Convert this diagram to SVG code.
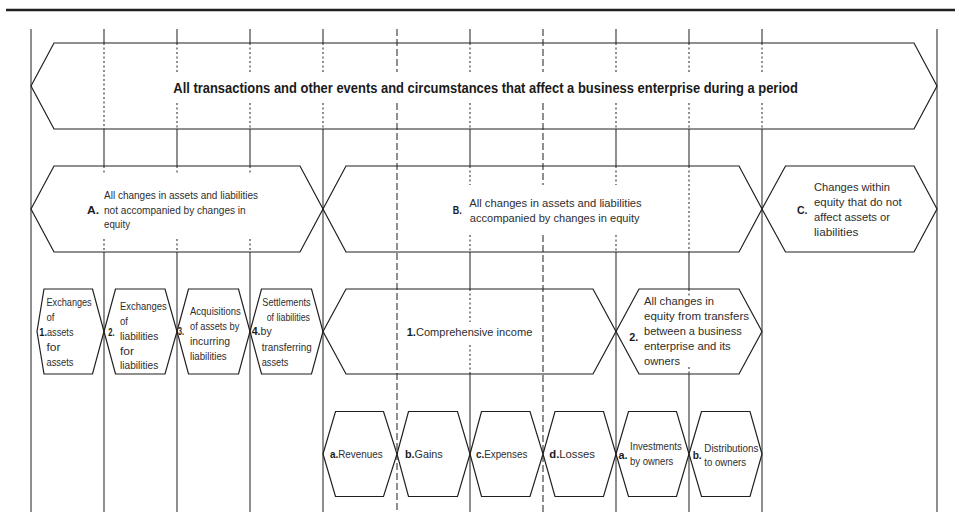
<svg xmlns="http://www.w3.org/2000/svg" width="955" height="523" viewBox="0 0 955 523">
<style>
.bg{fill:#fff}
.hex{fill:none;stroke:#231f20;stroke-width:1.2;stroke-linejoin:miter}
.v{stroke:#333;stroke-width:1.1;fill:none}
.dot{stroke-dasharray:2 2.5}
.dash{stroke-dasharray:7 3}
text{font-family:"Liberation Sans",Arial,sans-serif;fill:#2e2e2e}
.t{font-size:11.5px}
.s{font-size:11px}
.b{font-weight:bold;fill:#1a1a1a}
.title{font-size:15px;font-weight:bold;fill:#1a1a1a}
</style>
<rect class="bg" width="955" height="523"/>
<line x1="6" y1="10" x2="955" y2="10" stroke="#231f20" stroke-width="2.6"/>

<g id="connectors">
  <path class="v" d="M31 29V512M937 29V512"/>
  <path class="v" d="M104 29V43M104 129V166M104 252V512M177 29V43M177 129V166M177 252V512M250 29V43M250 129V166M250 252V512M323 29V43M323 129V512M470 29V43M470 129V166M470 252V289M470 374V512M616 29V43M616 129V166M616 252V512M689 29V43M689 129V166M689 252V289M689 374V512M762 29V43M762 129V512"/>
  <path class="v dot" d="M104 43V129M104 166V175M104 239V252M177 43V72M177 103V129M177 166V175M177 239V252M250 43V72M250 103V129M250 166V175M250 239V252M323 43V72M323 103V129M470 43V72M470 103V129M470 166V185M470 235V252M470 289V322M470 345V374M616 43V72M616 103V129M616 166V185M616 235V252M689 43V72M689 103V129M689 166V252M689 289V297M689 367V374M762 43V72M762 103V129"/>
  <path class="v dash" d="M397 29V72M397 103V512M543 29V72M543 103V185M543 235V512"/>
</g>

<g id="all-transactions">
  <polygon class="hex" points="31,86 54,43 914,43 937,86 914,129 54,129"/>
  <text class="title" x="173.3" y="93" textLength="624.5" lengthAdjust="spacingAndGlyphs">All transactions and other events and circumstances that affect a business enterprise during a period</text>
</g>

<g id="A">
  <polygon class="hex" points="31,209 54,166 300,166 323,209 300,252 54,252"/>
  <text class="t b" x="87" y="214" textLength="12" lengthAdjust="spacingAndGlyphs">A.</text>
  <text class="t" x="104" y="199" textLength="154" lengthAdjust="spacingAndGlyphs">All changes in assets and liabilities</text>
  <text class="t" x="104" y="213.5" textLength="141.7" lengthAdjust="spacingAndGlyphs">not accompanied by changes in</text>
  <text class="t" x="104" y="228" textLength="26" lengthAdjust="spacingAndGlyphs">equity</text>
</g>

<g id="B">
  <polygon class="hex" points="323,209 346,166 739,166 762,209 739,252 346,252"/>
  <text class="t b" x="452.7" y="214" textLength="9" lengthAdjust="spacingAndGlyphs">B.</text>
  <text class="t" x="469.3" y="206.7" textLength="172.4" lengthAdjust="spacingAndGlyphs">All changes in assets and liabilities</text>
  <text class="t" x="469.8" y="221.5" textLength="169.8" lengthAdjust="spacingAndGlyphs">accompanied by changes in equity</text>
</g>

<g id="C">
  <polygon class="hex" points="762,209 785.5,166 914,166 937,209 914,252 785.5,252"/>
  <text class="t b" x="797" y="214" textLength="10.5" lengthAdjust="spacingAndGlyphs">C.</text>
  <text class="t" x="814" y="190.7" textLength="76" lengthAdjust="spacingAndGlyphs">Changes within</text>
  <text class="t" x="814" y="206" textLength="87.7" lengthAdjust="spacingAndGlyphs">equity that do not</text>
  <text class="t" x="814" y="221" textLength="76" lengthAdjust="spacingAndGlyphs">affect assets or</text>
  <text class="t" x="814" y="236" textLength="44.3" lengthAdjust="spacingAndGlyphs">liabilities</text>
</g>

<g id="A1">
  <polygon class="hex" points="37,331.5 44,289 92.5,289 104,331.5 92.5,374 44,374"/>
  <text class="s" x="46.5" y="305.5" textLength="45.2" lengthAdjust="spacingAndGlyphs">Exchanges</text>
  <text class="s" x="46.5" y="320.5" textLength="8" lengthAdjust="spacingAndGlyphs">of</text>
  <text class="s" x="39.3" y="335.5" textLength="34.2" lengthAdjust="spacingAndGlyphs"><tspan class="b">1.</tspan>assets</text>
  <text class="s" x="46.5" y="350.5" textLength="14" lengthAdjust="spacingAndGlyphs">for</text>
  <text class="s" x="46.5" y="365.5" textLength="27" lengthAdjust="spacingAndGlyphs">assets</text>
</g>

<g id="A2">
  <polygon class="hex" points="104,331.5 115.5,289 165,289 177,331.5 165,374 115.5,374"/>
  <text class="s b" x="108.3" y="336" textLength="6.3" lengthAdjust="spacingAndGlyphs">2.</text>
  <text class="s" x="120" y="310" textLength="46.7" lengthAdjust="spacingAndGlyphs">Exchanges</text>
  <text class="s" x="120" y="324.8" textLength="8" lengthAdjust="spacingAndGlyphs">of</text>
  <text class="s" x="120" y="339.6" textLength="38.3" lengthAdjust="spacingAndGlyphs">liabilities</text>
  <text class="s" x="120" y="354.5" textLength="14" lengthAdjust="spacingAndGlyphs">for</text>
  <text class="s" x="120" y="369.3" textLength="38.3" lengthAdjust="spacingAndGlyphs">liabilities</text>
</g>

<g id="A3">
  <polygon class="hex" points="177,331.5 188.5,289 238.5,289 250,331.5 238.5,374 188.5,374"/>
  <text class="s b" x="178" y="335" textLength="6" lengthAdjust="spacingAndGlyphs">3.</text>
  <text class="s" x="190" y="315" textLength="50.7" lengthAdjust="spacingAndGlyphs">Acquisitions</text>
  <text class="s" x="190" y="330" textLength="49.3" lengthAdjust="spacingAndGlyphs">of assets by</text>
  <text class="s" x="190" y="345" textLength="40" lengthAdjust="spacingAndGlyphs">incurring</text>
  <text class="s" x="190" y="360" textLength="36.7" lengthAdjust="spacingAndGlyphs">liabilities</text>
</g>

<g id="A4">
  <polygon class="hex" points="250,331.5 261.5,289 311.5,289 323,331.5 311.5,374 261.5,374"/>
  <text class="s" x="262.3" y="305.5" textLength="48.4" lengthAdjust="spacingAndGlyphs">Settlements</text>
  <text class="s" x="266.7" y="320.5" textLength="43.3" lengthAdjust="spacingAndGlyphs">of liabilities</text>
  <text class="s" x="251.7" y="335" textLength="20" lengthAdjust="spacingAndGlyphs"><tspan class="b">4.</tspan>by</text>
  <text class="s" x="261.7" y="350.5" textLength="50" lengthAdjust="spacingAndGlyphs">transferring</text>
  <text class="s" x="261.7" y="365.5" textLength="26.6" lengthAdjust="spacingAndGlyphs">assets</text>
</g>

<g id="B1">
  <polygon class="hex" points="323,331.5 346,289 593,289 616,331.5 593,374 346,374"/>
  <text class="t" x="406.7" y="336" textLength="125.6" lengthAdjust="spacingAndGlyphs"><tspan class="b">1.</tspan>Comprehensive income</text>
</g>

<g id="B2">
  <polygon class="hex" points="616,331.5 639,289 739,289 762,331.5 739,374 639,374"/>
  <text class="t b" x="629.3" y="341" textLength="9" lengthAdjust="spacingAndGlyphs">2.</text>
  <text class="t" x="644" y="305" textLength="70" lengthAdjust="spacingAndGlyphs">All changes in</text>
  <text class="t" x="644" y="320" textLength="105" lengthAdjust="spacingAndGlyphs">equity from transfers</text>
  <text class="t" x="644" y="335" textLength="97.7" lengthAdjust="spacingAndGlyphs">between a business</text>
  <text class="t" x="644" y="350" textLength="86.7" lengthAdjust="spacingAndGlyphs">enterprise and its</text>
  <text class="t" x="644" y="365" textLength="36" lengthAdjust="spacingAndGlyphs">owners</text>
</g>

<g id="B1a">
  <polygon class="hex" points="323,454 335.5,411.5 383.5,411.5 397,454 383.5,496.5 335.5,496.5"/>
  <text class="s" x="330" y="458.3" textLength="52.7" lengthAdjust="spacingAndGlyphs"><tspan class="b">a.</tspan>Revenues</text>
</g>
<g id="B1b">
  <polygon class="hex" points="397,454 408.5,411.5 457.5,411.5 470,454 457.5,496.5 408.5,496.5"/>
  <text class="s" x="405" y="458.3" textLength="37.7" lengthAdjust="spacingAndGlyphs"><tspan class="b">b.</tspan>Gains</text>
</g>
<g id="B1c">
  <polygon class="hex" points="470,454 481.5,411.5 530,411.5 543,454 530,496.5 481.5,496.5"/>
  <text class="s" x="476" y="458.3" textLength="51.3" lengthAdjust="spacingAndGlyphs"><tspan class="b">c.</tspan>Expenses</text>
</g>
<g id="B1d">
  <polygon class="hex" points="543,454 555,411.5 603.5,411.5 616,454 603.5,496.5 555,496.5"/>
  <text class="s" x="549.3" y="458.3" textLength="45.7" lengthAdjust="spacingAndGlyphs"><tspan class="b">d.</tspan>Losses</text>
</g>
<g id="B2a">
  <polygon class="hex" points="616,454 628.5,411.5 676.5,411.5 689,454 676.5,496.5 628.5,496.5"/>
  <text class="s b" x="618.5" y="459" textLength="9" lengthAdjust="spacingAndGlyphs">a.</text>
  <text class="s" x="630" y="450" textLength="51.7" lengthAdjust="spacingAndGlyphs">Investments</text>
  <text class="s" x="630" y="464.5" textLength="43.3" lengthAdjust="spacingAndGlyphs">by owners</text>
</g>
<g id="B2b">
  <polygon class="hex" points="689,454 701.5,411.5 750,411.5 762,454 750,496.5 701.5,496.5"/>
  <text class="s b" x="692.7" y="459" textLength="9" lengthAdjust="spacingAndGlyphs">b.</text>
  <text class="s" x="704.3" y="452" textLength="54" lengthAdjust="spacingAndGlyphs">Distributions</text>
  <text class="s" x="704.3" y="466" textLength="41.7" lengthAdjust="spacingAndGlyphs">to owners</text>
</g>
</svg>
